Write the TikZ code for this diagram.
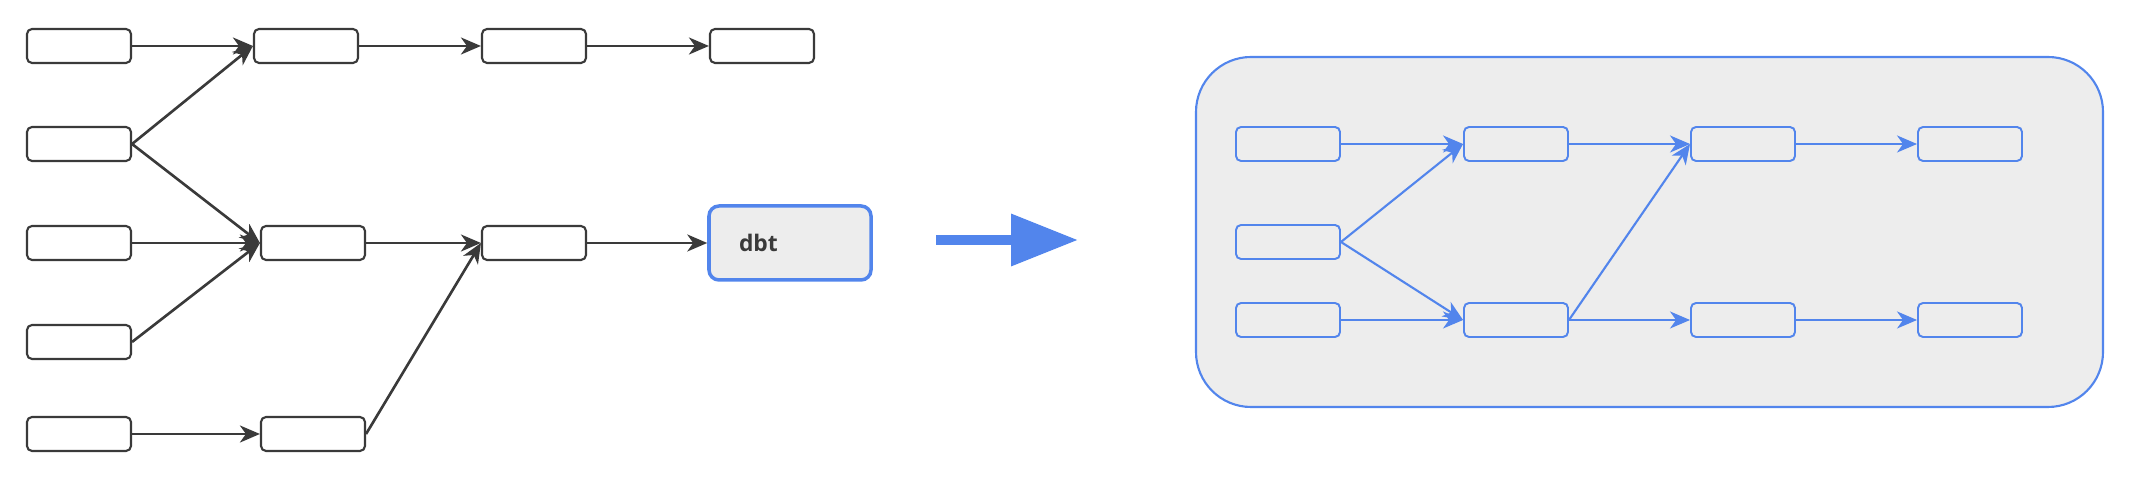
\documentclass[tikz,border=0pt]{standalone}
\usepackage{fontspec}
\usepackage{xcolor}
\usepackage{tikz}
\usetikzlibrary{arrows.meta}
\newfontfamily\dbtfont{Open Sans}
\definecolor{dag-gray}{RGB}{58, 58, 58}
\definecolor{dag-blue}{RGB}{82, 133, 236}
\definecolor{dag-fill}{RGB}{237, 237, 237}

\begin{document}
\begin{tikzpicture}[
    tbl/.style = {draw=dag-gray, line width=0.6pt, fill=white, rounded corners=0.05cm,
                  minimum width=1.04cm, minimum height=0.34cm, inner sep=0pt},
    tblb/.style = {tbl, draw=dag-blue, fill=dag-fill, line width=0.55pt},
    edge/.style = {draw=dag-gray, line width=0.75pt, -{Stealth[length=0.2cm, width=0.17cm, inset=0.06cm]}},
    edgeb/.style = {edge, draw=dag-blue, fill=dag-blue, line width=0.6pt}
  ]
          \useasboundingbox (0, 0) rectangle (21.5, 4.94);

          \node[tbl] (s1) at (0.79, 4.48) {};
          \node[tbl] (s2) at (0.79, 3.50) {};
          \node[tbl] (s3) at (0.79, 2.51) {};
          \node[tbl] (s4) at (0.79, 1.52) {};
          \node[tbl] (s5) at (0.79, 0.60) {};
          \node[tbl] (a1) at (3.06, 4.48) {};
          \node[tbl] (a3) at (3.13, 2.51) {};
          \node[tbl] (a5) at (3.13, 0.60) {};
          \node[tbl] (b1) at (5.34, 4.48) {};
          \node[tbl] (b3) at (5.34, 2.51) {};
          \node[tbl] (c1) at (7.62, 4.48) {};
          \node[draw=dag-blue, line width=1pt, fill=dag-fill, rounded corners=0.1cm,
                minimum width=1.62cm, minimum height=0.74cm, inner sep=0pt,
                text=dag-gray, font=\dbtfont\bfseries\fontsize{6.5}{8}\selectfont,
                align=left, text width=1.62cm] (dbt) at (7.90, 2.51) {\hspace*{0.3cm}dbt};

          \draw[edge] (s1) -- (a1.west);
          \draw[edge] (s2.east) -- (a1.west);
          \draw[edge] (s2.east) -- (a3.west);
          \draw[edge] (s3) -- (a3.west);
          \draw[edge] (s4.east) -- (a3.west);
          \draw[edge] (s5) -- (a5.west);
          \draw[edge] (a1) -- (b1);
          \draw[edge] (b1) -- (c1);
          \draw[edge] (a3) -- (b3);
          \draw[edge] (a5.east) -- (b3.west);
          \draw[edge] (b3) -- (dbt);

          \coordinate (arr-start) at (9.36, 2.54);
          \coordinate (arr-end) at (10.78, 2.54);
          \draw[dag-blue, line width=0.1cm, -{Triangle[length=0.67cm, width=0.5cm]}] (arr-start) -- (arr-end);

          \node[draw=dag-blue, line width=0.6pt, fill=dag-fill, rounded corners=0.55cm,
                minimum width=9.07cm, minimum height=3.50cm, inner sep=0pt] (dag) at (16.495, 2.62) {};

          \node[tblb] (p11) at (12.88, 3.50) {};
          \node[tblb] (p12) at (15.16, 3.50) {};
          \node[tblb] (p13) at (17.43, 3.50) {};
          \node[tblb] (p14) at (19.70, 3.50) {};
          \node[tblb] (p21) at (12.88, 2.52) {};
          \node[tblb] (p31) at (12.88, 1.74) {};
          \node[tblb] (p32) at (15.16, 1.74) {};
          \node[tblb] (p33) at (17.43, 1.74) {};
          \node[tblb] (p34) at (19.70, 1.74) {};

          \draw[edgeb] (p11) -- (p12);
          \draw[edgeb] (p12) -- (p13);
          \draw[edgeb] (p13) -- (p14);
          \draw[edgeb] (p21.east) -- (p12.west);
          \draw[edgeb] (p21.east) -- (p32.west);
          \draw[edgeb] (p31) -- (p32);
          \draw[edgeb] (p32.east) -- (p13.west);
          \draw[edgeb] (p32) -- (p33);
          \draw[edgeb] (p33) -- (p34);
        \end{tikzpicture}
\end{document}
